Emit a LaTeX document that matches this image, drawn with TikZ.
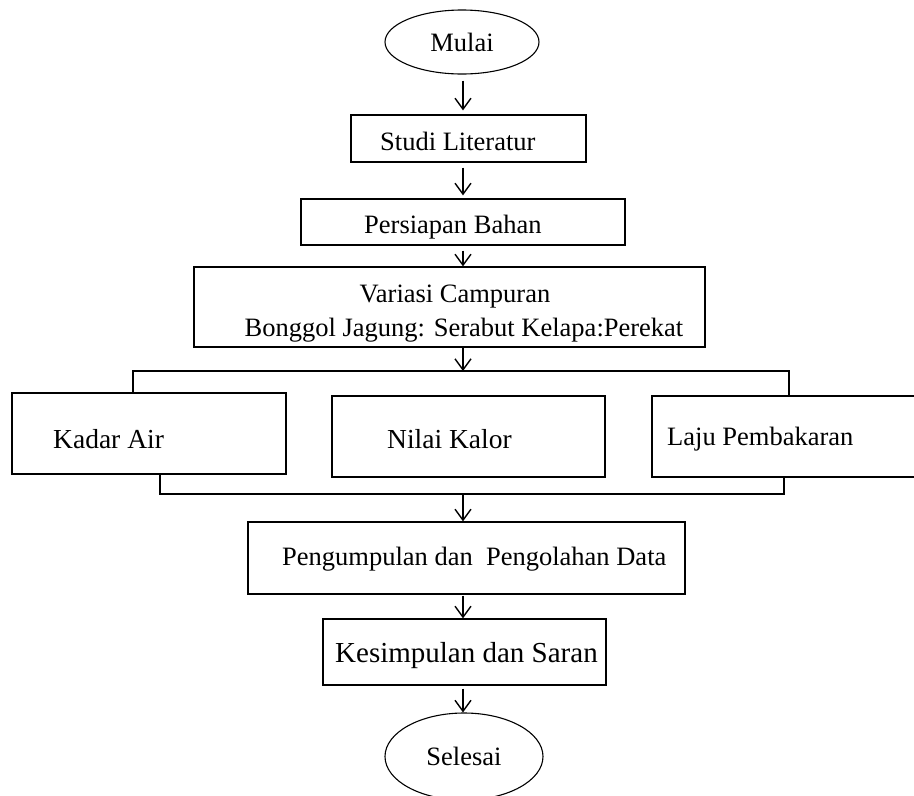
\documentclass[tikz,border=0pt]{standalone}
\usepackage{fontspec}
\setmainfont{Liberation Serif}
\usetikzlibrary{shapes.geometric,arrows.meta}
\begin{document}
\begin{tikzpicture}[x=1pt,y=-1pt,
  box/.style={draw,line width=1.3pt,rectangle,inner sep=0pt},
  oval/.style={draw,line width=1.1pt,ellipse,inner sep=0pt},
  lbl/.style={inner sep=0pt,anchor=base west,font=\fontsize{26.5}{32}\selectfont},
  arr/.style={line width=1.4pt,-{Straight Barb[length=11pt,width=16pt,line width=1.4pt]}},
  bus/.style={line width=2pt}]
\useasboundingbox (0,0) rectangle (914,796);
% start
\node[oval,minimum width=154pt,minimum height=64pt,font=\fontsize{26.5}{32}\selectfont] (mulai) at (462,42) {Mulai};
% boxes
\node[box,minimum width=235pt,minimum height=47pt] (studi) at (468.5,138.5) {};
\node[lbl] (tstudi) at (380,150) {Studi Literatur};
\node[box,minimum width=324pt,minimum height=46pt] (persiapan) at (463,222) {};
\node[lbl] (tpersiapan) at (364,233) {Persiapan Bahan};
\node[box,minimum width=511pt,minimum height=80pt] (variasi) at (449.5,307) {};
\node[lbl,anchor=base] (tvar1) at (455,302) {Variasi Campuran};
\node[lbl,anchor=base] (tvar2) at (464,336) {Bonggol Jagung: Serabut Kelapa:Perekat};
\node[box,minimum width=274pt,minimum height=81pt] (kadar) at (149,433.5) {};
\node[lbl,font=\fontsize{27.5}{32}\selectfont] (tkadar) at (53,448) {Kadar Air};
\node[box,minimum width=273pt,minimum height=81pt] (nilai) at (468.5,436.5) {};
\node[lbl,font=\fontsize{27.5}{32}\selectfont] (tnilai) at (387,448) {Nilai Kalor};
\node[box,minimum width=278pt,minimum height=81pt] (laju) at (791,436.5) {};
\node[lbl] (tlaju) at (667,445) {Laju Pembakaran};
\node[box,minimum width=437pt,minimum height=72pt] (olah) at (466.5,558) {};
\node[lbl] (tolah) at (282,565) {Pengumpulan dan\ \ Pengolahan Data};
\node[box,minimum width=283pt,minimum height=66pt] (simpul) at (464.5,652) {};
\node[lbl,font=\fontsize{29}{34}\selectfont] (tsimpul) at (335,662) {Kesimpulan dan Saran};
% end
\node[oval,minimum width=158pt,minimum height=87pt,font=\fontsize{26.5}{32}\selectfont] (selesai) at (464,756.5) {Selesai};
% bus coordinates
\coordinate (tb) at (463,371);
\coordinate (tbL) at (133,371);
\coordinate (tbR) at (789,371);
\coordinate (bb) at (463,494);
\coordinate (bbL) at (160,494);
\coordinate (bbR) at (784,494);
% connectors
\draw[arr,shorten <=6pt,shorten >=4pt] (mulai.south -| tb) -- (studi.north -| tb);
\draw[arr,shorten <=5pt,shorten >=3pt] (studi.south -| tb) -- (persiapan.north -| tb);
\draw[arr,shorten <=5pt] (persiapan.south -| tb) -- (variasi.north -| tb);
\draw[arr] (variasi.south -| tb) -- (tb);
\draw[bus] (tbL |- kadar.north) -- (tbL) -- (tbR) -- (tbR |- laju.north);
\draw[bus] (bbL |- kadar.south) -- (bbL) -- (bbR) -- (bbR |- laju.south);
\draw[arr] (bb) -- (olah.north -| bb);
\draw[arr,shorten <=1pt] (olah.south -| bb) -- (simpul.north -| bb);
\draw[arr,shorten <=3pt] (simpul.south -| bb) -- (selesai.north -| bb);
\end{tikzpicture}
\end{document}
